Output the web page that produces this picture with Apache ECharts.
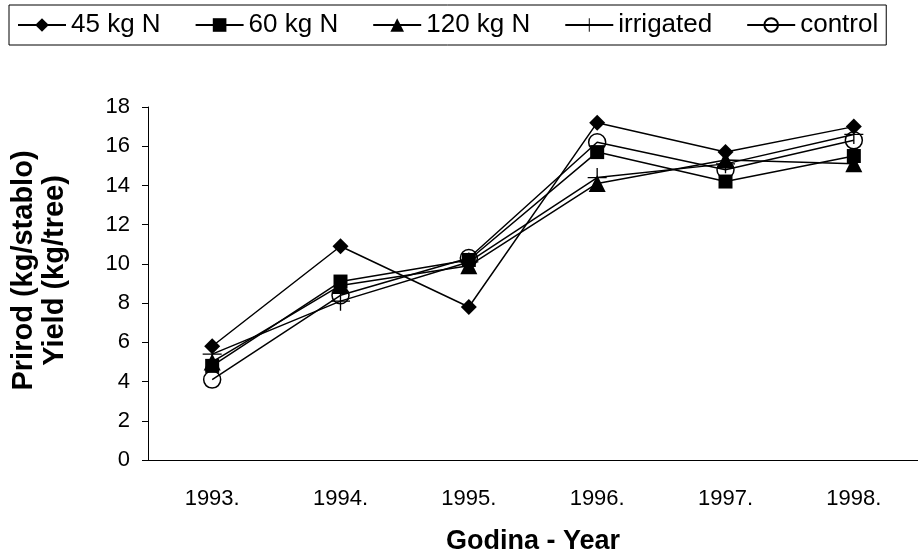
<!DOCTYPE html>
<html><head><meta charset="utf-8">
<script src="https://cdn.jsdelivr.net/npm/echarts@6/dist/echarts.min.js"></script>
<style>html,body{margin:0;padding:0;background:#fff}#c{width:918px;height:560px}</style>
</head><body><div id="c"></div>
<script>
var years = ['1993.', '1994.', '1995.', '1996.', '1997.', '1998.'];
var n45 = [5.8, 10.9, 7.8, 17.2, 15.7, 17.0];
var n60 = [4.8, 9.1, 10.2, 15.7, 14.2, 15.5];
var n120 = [5.0, 8.9, 9.9, 14.1, 15.3, 15.1];
var irrigated = [5.4, 8.1, 10.1, 14.4, 15.1, 16.6];
var control = [4.1, 8.4, 10.3, 16.2, 14.8, 16.3];
var yTicks = [0, 2, 4, 6, 8, 10, 12, 14, 16, 18];

var FONT = 'Liberation Sans, Arial, sans-serif';
var DIAMOND = 'path://M0,-1L1,0L0,1L-1,0Z';
var CROSS = 'path://M-1,-0.07L1,-0.07L1,0.07L-1,0.07Z M-0.07,-1L0.07,-1L0.07,1L-0.07,1Z';
function ser(name, data, symbol, size, extra) {
  var s = {
    name: name, type: 'line', data: data, symbol: symbol, symbolSize: size,
    lineStyle: {color: '#000', width: 1.5}, itemStyle: {color: '#000'},
    animation: false, z: 2
  };
  if (extra) Object.assign(s, extra);
  return s;
}
var chart = echarts.init(document.getElementById('c'), null, {renderer: 'canvas'});
chart.setOption({
  backgroundColor: '#fff',
  textStyle: {fontFamily: FONT},
  legend: {
    top: 5, left: 9, padding: [7, 8, 7, 8],
    borderColor: '#000', borderWidth: 1,
    itemWidth: 48, itemHeight: 17, itemGap: 34,
    textStyle: {fontSize: 26, color: '#000', fontFamily: FONT},
    data: ['45 kg N', '60 kg N', '120 kg N', 'irrigated', 'control']
  },
  grid: {left: 133, right: -6, top: 107, bottom: 96, containLabel: false},
  xAxis: {
    type: 'category', data: years, boundaryGap: true,
    name: 'Godina - Year', nameLocation: 'middle', nameGap: 68,
    nameTextStyle: {fontSize: 27, fontWeight: 'bold', color: '#000', fontFamily: FONT},
    axisLine: {lineStyle: {color: '#000', width: 1}},
    axisTick: {length: 6, lineStyle: {color: '#000'}},
    axisLabel: {fontSize: 22, color: '#000', margin: 28, fontFamily: FONT}
  },
  yAxis: {
    type: 'value', min: 0, max: 18, interval: 2,
    name: 'Prirod (kg/stablo)\nYield (kg/tree)', nameLocation: 'middle', nameGap: 78,
    nameTextStyle: {fontSize: 29, fontWeight: 'bold', color: '#000', lineHeight: 31, fontFamily: FONT, padding: [0, 0, 0, 26]},
    axisLine: {show: true, lineStyle: {color: '#000', width: 1}},
    axisTick: {show: true, length: 6, lineStyle: {color: '#000'}},
    axisLabel: {fontSize: 22, color: '#000', margin: 18, fontFamily: FONT,
      formatter: function (v) { return yTicks.indexOf(v) >= 0 ? String(v) : ''; }},
    splitLine: {show: false}
  },
  series: [
    ser('45 kg N', n45, DIAMOND, 16),
    ser('60 kg N', n60, 'rect', 14),
    ser('120 kg N', n120, 'triangle', 17),
    ser('irrigated', irrigated, CROSS, 19),
    ser('control', control, 'circle', 17, {itemStyle: {color: 'rgba(255,255,255,0)', borderColor: '#000', borderWidth: 1.5}})
  ]
});
</script></body></html>
